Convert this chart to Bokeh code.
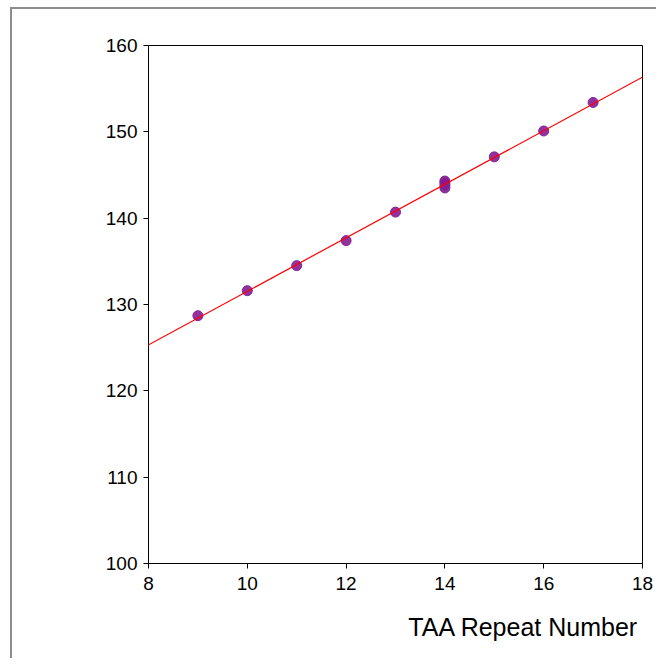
import numpy as np
from bokeh.plotting import figure
from bokeh.models import Slope, Title, FixedTicker, Range1d
from bokeh.embed import file_html
from bokeh.resources import INLINE

repeat_number = [9, 10, 11, 12, 13, 14, 14, 14, 14, 15, 16, 17]
size_value = [128.7, 131.6, 134.5, 137.4, 140.7, 143.5, 143.8, 144.1, 144.3, 147.1, 150.1, 153.4]
x_ticks = [8, 10, 12, 14, 16, 18]
y_ticks = [100, 110, 120, 130, 140, 150, 160]
x_title = "TAA Repeat Number"

FONT = "Liberation Sans"

p = figure(width=656, height=658, output_backend="svg", toolbar_location=None,
           x_range=Range1d(8, 18), y_range=Range1d(100, 160),
           min_border_left=148, min_border_right=14, min_border_top=45, min_border_bottom=95)
p.grid.visible = False
p.outline_line_color = "black"
p.outline_line_width = 1
p.background_fill_color = "white"
p.border_fill_color = None
p.styles = {
    "background-color": "white",
    "background-image": "linear-gradient(#8c8c8c, #8c8c8c), linear-gradient(#8c8c8c, #8c8c8c)",
    "background-size": "2px 100%, 100% 2px",
    "background-position": "10px 7px, 10px 7px",
    "background-repeat": "no-repeat",
}

for ax, ticks in ((p.xaxis, x_ticks), (p.yaxis, y_ticks)):
    ax.ticker = FixedTicker(ticks=ticks)
    ax.minor_tick_line_color = None
    ax.major_tick_out = 5
    ax.major_tick_in = 0
    ax.axis_line_color = "black"
    ax.major_tick_line_color = "black"
    ax.major_label_text_font = FONT
    ax.major_label_text_font_size = "19px"
    ax.major_label_text_color = "black"
p.xaxis.major_label_standoff = 8
p.yaxis.major_label_standoff = 6

gradient, intercept = np.polyfit(repeat_number, size_value, 1)
p.add_layout(Slope(gradient=gradient, y_intercept=intercept, line_color="red", line_width=1.2))

p.scatter(repeat_number, size_value, size=10, fill_color="#8a1a90", line_color="#7a2a9a",
          line_width=1, fill_alpha=0.9)

p.add_layout(Title(text=x_title, align="right", text_font=FONT, text_font_size="25px",
                   text_font_style="normal", text_color="black", offset=4, standoff=36), "below")

open("out.html", "w").write(file_html(p, INLINE))
